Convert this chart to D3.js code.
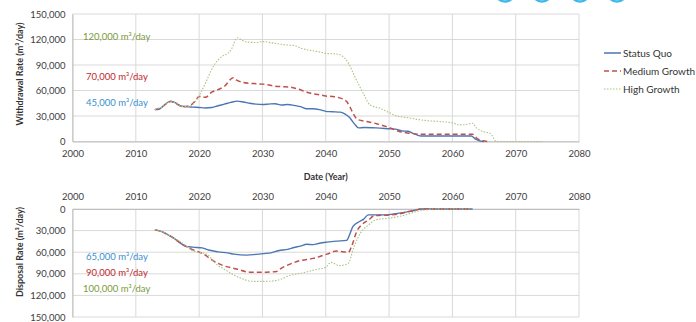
<!DOCTYPE html>
<html><head><meta charset="utf-8">
<script src="https://cdn.jsdelivr.net/npm/d3@7"></script>
<style>body{margin:0;background:#fff}svg{display:block}text{font-family:Lato,"Open Sans",sans-serif}</style>
</head><body><svg id="c" width="696" height="322"></svg>
<script>
const yearTicks = [2000,2010,2020,2030,2040,2050,2060,2070,2080];
const rateTicks = [0,30000,60000,90000,120000,150000];
const seriesNames = ["Status Quo","Medium Growth","High Growth"];
const withdrawalSQ = [[2013,37500],[2013.7,38000],[2014.5,43000],[2015.5,47500],[2016.3,45500],[2017,42000],[2018,41000],[2019,40500],[2020,40000],[2021,39500],[2022,40000],[2023,42000],[2024,44000],[2025,46000],[2026,47500],[2027,46500],[2028,45000],[2029,44000],[2030,43500],[2031,44000],[2032,44500],[2033,43000],[2034,43500],[2035,42500],[2036,41000],[2037,38500],[2038,38500],[2039,37500],[2040,35500],[2041,35000],[2042.3,34500],[2043,32500],[2043.8,28000],[2044.5,21000],[2045.2,16000],[2046,16500],[2048,16000],[2050,15000],[2051,14500],[2052,12500],[2053,12000],[2054,9000],[2055,6500],[2057,6500],[2060,6500],[2063,6500],[2063.6,3000],[2064.3,800],[2065,0]];
const withdrawalMG = [[2013,37500],[2014,40000],[2015.5,47000],[2016.5,44000],[2017.5,41000],[2018.5,42000],[2019.3,47000],[2020,53000],[2021,52000],[2022,58000],[2023,61000],[2024,65000],[2025.4,75000],[2026,72000],[2027,69500],[2028,68500],[2029,68000],[2030,67500],[2031,66500],[2032,65000],[2033,64500],[2034.4,64000],[2035.5,62000],[2036.5,59500],[2037.5,57000],[2039,55000],[2040,53500],[2041,53000],[2042.7,50000],[2043.3,47000],[2043.8,41000],[2044.4,32000],[2045,26000],[2046.5,23500],[2048,21000],[2049.6,17500],[2050.5,15000],[2051.5,12000],[2053.3,9700],[2055,8500],[2060,8500],[2063.2,8500],[2064,3000],[2064.8,800],[2065.5,0]];
const withdrawalHG = [[2013,37500],[2014,40000],[2015.5,47000],[2016.5,44000],[2017.5,41000],[2018.5,41500],[2019.5,48000],[2020.3,58000],[2021.2,72000],[2022.2,88000],[2023,96000],[2023.8,101000],[2024.6,104000],[2025.2,110000],[2026,122000],[2026.6,120000],[2027.5,117000],[2029,116500],[2030.2,117500],[2031.5,116000],[2032.8,114500],[2034,113500],[2035,113000],[2036,110000],[2037,108000],[2038.6,106000],[2040.2,103500],[2041.5,103000],[2042.3,102000],[2043,98000],[2043.6,92000],[2044.3,81000],[2045.2,67000],[2045.9,57000],[2047,43000],[2048.6,39000],[2050,34000],[2051.2,30000],[2053,28000],[2054.9,25500],[2056,24500],[2058,23500],[2060,22000],[2061.2,19500],[2062.2,20000],[2063.2,21500],[2063.8,16000],[2064.4,13000],[2065.2,11000],[2066,9500],[2066.5,4000],[2066.8,500],[2067.5,0],[2074.3,0]];
const disposalSQ = [[2013,29000],[2014,31000],[2015,35500],[2016,40500],[2017,47000],[2017.8,51500],[2019,53000],[2020.5,54000],[2021.5,57000],[2023,59500],[2024.5,61000],[2025.5,62700],[2027.5,64000],[2029,63000],[2030.1,62000],[2031.5,60500],[2032.5,58000],[2034,56000],[2035,53500],[2036,51500],[2037,49000],[2038,49500],[2039,47500],[2040.2,46000],[2041.7,44600],[2043.3,43500],[2043.8,35000],[2044.3,24000],[2045.4,17000],[2046,14000],[2046.7,8200],[2049.6,8200],[2051,6500],[2052.2,5000],[2053.5,3000],[2054.3,1200],[2055,0],[2063.2,0]];
const disposalMG = [[2013,29000],[2014,31000],[2015,35500],[2016,40500],[2017,47000],[2018.6,55000],[2020.7,62700],[2022.2,71800],[2023.8,78600],[2025.9,83200],[2028,87700],[2030.6,87700],[2032.2,86800],[2033,82000],[2033.8,78600],[2035.9,71800],[2038,68600],[2040.2,62700],[2041.7,58500],[2043.6,60000],[2044.1,51400],[2044.9,31000],[2045.7,21800],[2046.8,15000],[2047.6,9500],[2050,8200],[2051.6,6800],[2053.1,3600],[2054.2,1400],[2055,0],[2063,0]];
const disposalHG = [[2013,29000],[2014,31000],[2015,35500],[2016,40500],[2017,45000],[2019,58000],[2021.2,62700],[2022.7,76400],[2024.3,85500],[2026.4,95500],[2028.5,100500],[2030.6,100500],[2032.7,98200],[2034.3,92300],[2036.4,88700],[2038.4,84100],[2040,80900],[2040.8,74100],[2042.1,78600],[2043.5,76000],[2044.5,51400],[2045.5,33200],[2046.8,21800],[2047.9,15000],[2050,12700],[2052.6,8200],[2054.2,3600],[2056,1000],[2057,0],[2063,0]];
const withdrawalNotes = ["120,000 m³/day","70,000 m³/day","45,000 m³/day"];
const disposalNotes = ["65,000 m³/day","90,000 m³/day","100,000 m³/day"];

const svg = d3.select("#c");
const fmt = d3.format(",");
const colors = ["#4a76b4","#c0504d","#a9c47f"];
const dashes = [null,"5,3","1.5,1.5"];
const widths = [1.4,1.5,1.1];
const x = d3.scaleLinear().domain([2000,2080]).range([72.5,579]);

// decorative arcs at top right
[505,542,580,617].forEach(cx=>{
  svg.append("circle").attr("cx",cx).attr("cy",-8).attr("r",9.5)
    .attr("fill","none").attr("stroke","#3fb8ea").attr("stroke-width",2.5);
});

function panel(y, data, xAxisTop, title, titleY){
  const g = svg.append("g");
  g.selectAll(".hg").data(rateTicks).join("line")
    .attr("x1",x(2000)).attr("x2",x(2080))
    .attr("y1",d=>y(d)).attr("y2",d=>y(d))
    .attr("stroke","#d9d9d9").attr("stroke-width",1);
  g.selectAll(".vg").data(yearTicks).join("line")
    .attr("x1",d=>x(d)).attr("x2",d=>x(d))
    .attr("y1",y(0)).attr("y2",y(150000))
    .attr("stroke","#d9d9d9").attr("stroke-width",1);
  const ya = g.append("g").attr("transform",`translate(${x(2000)},0)`)
    .call(d3.axisLeft(y).tickValues(rateTicks).tickFormat(fmt).tickSize(0).tickPadding(7));
  ya.select(".domain").attr("stroke","#bfbfbf");
  ya.selectAll("text").attr("font-size","9.5px").attr("fill","#404040").style("font-family","Lato,sans-serif");
  const xa = g.append("g").attr("transform",`translate(0,${y(0)})`)
    .call((xAxisTop ? d3.axisTop(x) : d3.axisBottom(x)).tickValues(yearTicks).tickFormat(d3.format("d")).tickSize(0).tickPadding(9));
  xa.select(".domain").attr("stroke","#bfbfbf");
  xa.selectAll("text").attr("font-size","9.5px").attr("fill","#404040").style("font-family","Lato,sans-serif");
  const line = d3.line().x(d=>x(d[0])).y(d=>y(d[1])).curve(d3.curveMonotoneX);
  data.forEach((s,i)=>{
    g.append("path").datum(s).attr("d",line).attr("fill","none")
      .attr("stroke",colors[i]).attr("stroke-width",widths[i])
      .attr("stroke-dasharray",dashes[i]);
  });
  g.append("text").attr("transform",`translate(23,${titleY}) rotate(-90)`)
    .attr("text-anchor","middle").attr("font-size","9px").attr("font-weight","bold")
    .attr("fill","#333").text(title);
}

const yTop = d3.scaleLinear().domain([0,150000]).range([141.5,14]);
const yBot = d3.scaleLinear().domain([0,150000]).range([209,317]);
panel(yTop,[withdrawalSQ,withdrawalMG,withdrawalHG],false,"Withdrawal Rate (m³/day)",74);
panel(yBot,[disposalSQ,disposalMG,disposalHG],true,"Disposal Rate (m³/day)",252);

svg.append("text").attr("x",(x(2000)+x(2080))/2).attr("y",180)
  .attr("text-anchor","middle").attr("font-size","9px").attr("font-weight","bold").attr("fill","#333").text("Date (Year)");

const noteColors = ["#7a9a3c","#c0272d","#3a8fd0"];
const topNoteY = [40,80,106];
withdrawalNotes.forEach((t,i)=>{
  svg.append("text").attr("x",i===0?83:86).attr("y",topNoteY[i]).attr("font-size","9.5px")
    .attr("fill",noteColors[i]).text(t);
});
const botColors = ["#3a8fd0","#c0272d","#7a9a3c"];
const botNoteY = [260,276,292];
disposalNotes.forEach((t,i)=>{
  svg.append("text").attr("x",i===2?83:86).attr("y",botNoteY[i]).attr("font-size","9.5px")
    .attr("fill",botColors[i]).text(t);
});

const lg = svg.append("g");
seriesNames.forEach((n,i)=>{
  const yy = 53 + i*18;
  lg.append("line").attr("x1",604).attr("x2",621).attr("y1",yy).attr("y2",yy)
    .attr("stroke",colors[i]).attr("stroke-width",i===2?1.2:1.5).attr("stroke-dasharray",dashes[i]);
  lg.append("text").attr("x",623).attr("y",yy+3.5).attr("font-size","10px").attr("fill","#333").text(n);
});
</script></body></html>
